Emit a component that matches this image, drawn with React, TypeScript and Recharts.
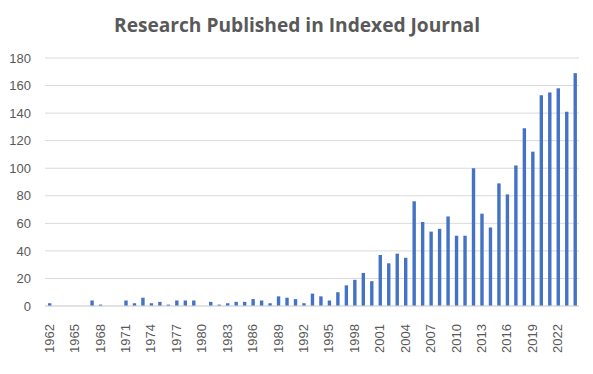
import { BarChart, Bar, XAxis, YAxis, CartesianGrid } from 'recharts'

const YEARS = [
  '1962', '1963', '1964', '1965', '1966', '1967', '1968', '1969', '1970',
  '1971', '1972', '1973', '1974', '1975', '1976', '1977', '1978', '1979',
  '1980', '1981', '1982', '1983', '1984', '1985', '1986', '1987', '1988',
  '1989', '1990', '1991', '1992', '1993', '1994', '1995', '1996', '1997',
  '1998', '1999', '2000', '2001', '2002', '2003', '2004', '2005', '2006',
  '2007', '2008', '2009', '2010', '2011', '2012', '2013', '2014', '2015',
  '2016', '2017', '2018', '2019', '2020', '2021', '2022', '2023', '2024',
]

const PUBLISHED = [
  2, 0, 0, 0, 0, 4, 1, 0, 0,
  4, 2, 6, 2, 3, 1, 4, 4, 4,
  0, 3, 1, 2, 3, 3, 5, 4, 2,
  7, 6, 5, 2, 9, 7, 4, 10, 15,
  19, 24, 18, 37, 31, 38, 35, 76, 61,
  54, 56, 65, 51, 51, 100, 67, 57, 89,
  81, 102, 129, 112, 153, 155, 158, 141, 169,
]

const Y_TICKS = [0, 20, 40, 60, 80, 100, 120, 140, 160, 180]

const TITLE = 'Research Published in Indexed Journal'

const data = YEARS.map((year, i) => ({ year, count: PUBLISHED[i] }))

const TEXT_COLOR = '#595959'
const FONT = '"Liberation Sans", Arial, sans-serif'

function YearTick({ x, y, payload }: any) {
  return (
    <text
      x={x}
      y={y + 10}
      transform={`rotate(-90, ${x}, ${y + 10})`}
      textAnchor="end"
      dy="0.35em"
      fill={TEXT_COLOR}
      fontSize={13}
      fontFamily={FONT}
    >
      {payload.value}
    </text>
  )
}

export default function App() {
  return (
    <div style={{ position: 'absolute', left: 0, top: 0, width: 593, height: 374, background: '#fff' }}>
      <svg width={593} height={50} style={{ position: 'absolute', left: 0, top: 0 }}>
        <text
          x={297}
          y={32}
          textAnchor="middle"
          fill={TEXT_COLOR}
          fontSize={19}
          fontWeight="bold"
          fontFamily='"Open Sans", sans-serif'
          textLength={366}
          lengthAdjust="spacingAndGlyphs"
        >
          {TITLE}
        </text>
      </svg>
      <BarChart
        width={593}
        height={374}
        data={data}
        margin={{ top: 58, right: 14, bottom: 0, left: 0 }}
        barSize={3.4}
      >
        <CartesianGrid vertical={false} stroke="#d9d9d9" />
        <XAxis
          dataKey="year"
          interval={2}
          height={68}
          axisLine={{ stroke: '#d9d9d9' }}
          tickLine={false}
          tick={<YearTick />}
        />
        <YAxis
          domain={[0, 180]}
          ticks={Y_TICKS}
          width={45}
          axisLine={false}
          tickLine={false}
          tickSize={0}
          tickMargin={14}
          tick={{ fill: TEXT_COLOR, fontSize: 13, fontFamily: FONT }}
        />
        <Bar dataKey="count" fill="#4472C4" isAnimationActive={false} />
      </BarChart>
    </div>
  )
}
